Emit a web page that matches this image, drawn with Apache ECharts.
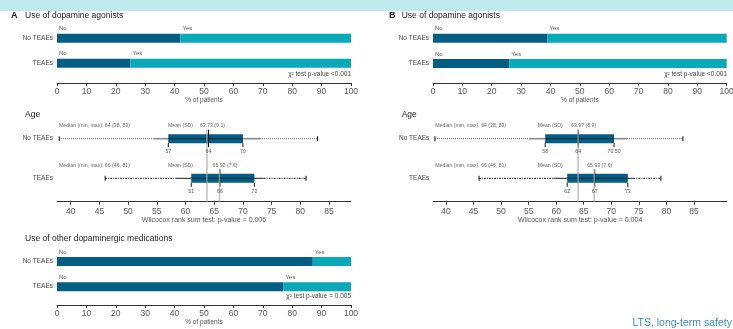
<!DOCTYPE html>
<html>
<head>
<meta charset="utf-8">
<script src="https://cdn.jsdelivr.net/npm/echarts@6/dist/echarts.min.js"></script>
<style>
  html, body { margin: 0; padding: 0; background: #fff; }
  #chart { width: 733px; height: 329px; }
</style>
</head>
<body>
<div id="chart"></div>
<script>
const rowNames = ['No TEAEs', 'TEAEs'];

// % of patients, "No" / "Yes"
const dopaNoA = [42, 25];
const dopaYesA = [58, 75];
const dopaNoB = [39, 26];
const dopaYesB = [61, 74];
const otherNoA = [87, 77];
const otherYesA = [13, 23];

// age rows: min, end of solid whisker, q1, median, q3, end of solid whisker, max, mean
const ageA = [
  [38, 54.5, 57, 64, 70, 73, 83, 63.73],
  [46, 58.3, 61, 66, 72, 73.6, 81, 65.92]
];
const ageB = [
  [38, 55.1, 58, 64, 70.5, 72.9, 83, 63.97],
  [46, 59.8, 62, 67, 73, 74, 79, 66.9]
];
const ageTicks = [40, 45, 50, 55, 60, 65, 70, 75, 80, 85];

const medianTextA = ['Median (min, max): 64 (38, 83)', 'Median (min, max): 66 (46, 81)'];
const meanTextA = ['63.73 (9.1)', '65.92 (7.6)'];
const boxTextA = [['57', '64', '70'], ['51', '66', '72']];
const medianTextB = ['Median (min, max): 64 (38, 83)', 'Median (min, max): 66 (46, 81)'];
const meanTextB = ['63.97 (8.9)', '65.93 (7.6)'];
const boxTextB = [['58', '64', '70.50'], ['62', '67', '73']];

const FONT = '"Liberation Sans", Arial, Helvetica, sans-serif';
const DARK = '#045e84';
const LIGHT = '#0aa9b9';
const AGE_OFFSET = 23.4;

const chart = echarts.init(document.getElementById('chart'));

function pctAxis(gridIndex, offset) {
  return {
    type: 'value', gridIndex, min: 0, max: 100, interval: 10, offset,
    name: '% of patients', nameLocation: 'middle', nameGap: 14,
    nameTextStyle: { fontSize: 6.5, color: '#555', fontFamily: FONT },
    axisLine: { show: true, lineStyle: { color: '#333', width: 1 } },
    axisTick: { show: true, length: 3, lineStyle: { color: '#333' } },
    axisLabel: { fontSize: 8.5, color: '#555', margin: 4, fontFamily: FONT },
    splitLine: { show: false }
  };
}

function ageAxis(gridIndex, min, max, name) {
  return {
    type: 'value', gridIndex, min, max, offset: AGE_OFFSET,
    name, nameLocation: 'middle', nameGap: 15,
    nameTextStyle: { fontSize: 7, color: '#555', fontFamily: FONT },
    axisLine: { show: true, lineStyle: { color: '#333', width: 1 } },
    axisTick: { show: true, length: 3, customValues: ageTicks, lineStyle: { color: '#333' } },
    axisLabel: { customValues: ageTicks, fontSize: 8.5, color: '#555', margin: 5, fontFamily: FONT },
    splitLine: { show: false }
  };
}

function rowAxis(gridIndex) {
  return {
    type: 'category', gridIndex, data: rowNames, inverse: true, boundaryGap: false,
    axisLine: { show: false }, axisTick: { show: false }, splitLine: { show: false },
    axisLabel: { fontSize: 6.5, color: '#444', margin: 4, fontFamily: FONT }
  };
}

function barPair(idx, noData, yesData) {
  const label = {
    show: true, position: [2, -5], align: 'left', verticalAlign: 'middle',
    fontSize: 6, color: '#555', fontFamily: FONT
  };
  const base = { type: 'bar', xAxisIndex: idx, yAxisIndex: idx, stack: 's' + idx, barWidth: 9, silent: true };
  return [
    Object.assign({}, base, { name: 'No', data: noData, itemStyle: { color: DARK }, label: Object.assign({}, label, { formatter: 'No' }) }),
    Object.assign({}, base, { name: 'Yes', data: yesData, itemStyle: { color: LIGHT }, label: Object.assign({}, label, { formatter: 'Yes' }) })
  ];
}

function ageRenderer(medText, meanText, boxText, meanLabelDx) {
  return function (params, api) {
    const i = api.value(0);
    const X = k => api.coord([api.value(k), i])[0];
    const y = api.coord([api.value(1), i])[1];
    const cs = params.coordSys;
    const axisY = cs.y + cs.height + AGE_OFFSET;
    const xMin = X(1), xLo = X(2), xQ1 = X(3), xMd = X(4), xQ3 = X(5), xHi = X(6), xMax = X(7), xMean = X(8);
    const first = i === 0;
    const solid = { stroke: first ? '#8a8a8a' : '#1a1a1a', lineWidth: first ? 1.6 : 1 };
    const dotted = { stroke: first ? '#555' : '#1a1a1a', lineWidth: 1, lineDash: first ? [1, 1] : [2, 1, 1, 1] };
    const tick = { stroke: '#111', lineWidth: 1 };
    const line = (x1, y1, x2, y2, style, z2) => ({ type: 'line', shape: { x1, y1, x2, y2 }, style, z2: z2 || 0 });
    const txt = (x, yy, text, align, size, color) => ({
      type: 'text', x, y: yy, z2: 20,
      style: { text, align, verticalAlign: 'middle', fontSize: size, fill: color, fontFamily: FONT }
    });
    const ty = y - 12.7;
    return {
      type: 'group',
      children: [
        line(xMin, y, xLo, y, dotted),
        line(xHi, y, xMax, y, dotted),
        line(xLo, y, xQ1, y, solid),
        line(xQ3, y, xHi, y, solid),
        line(xMin, y - 2.5, xMin, y + 2.5, tick),
        line(xMax, y - 2.5, xMax, y + 2.5, tick),
        { type: 'rect', shape: { x: xQ1, y: y - 4.5, width: xQ3 - xQ1, height: 9 }, style: { fill: DARK }, z2: 1 },
        line(xQ1, y, xQ3, y, { stroke: '#0a324a', lineWidth: 1.2 }, 2),
        line(xMd, y - 9, xMd, y + 8.5, tick, 3),
        line(xQ1, y + 4.5, xQ1, y + 8.5, tick, 3),
        line(xQ3, y + 4.5, xQ3, y + 8.5, tick, 3),
        line(xMean, y - 9, xMean, axisY, { stroke: 'rgba(170,170,170,0.75)', lineWidth: 1.5 }, 10),
        txt(cs.x + 2, ty, medText[i], 'left', 5.2, '#666'),
        txt(cs.x + meanLabelDx, ty, 'Mean (SD)', 'left', 5.2, '#666'),
        txt(xMean - 7, ty, meanText[i], 'left', 5.2, '#666'),
        txt(xQ1, y + 13, boxText[i][0], 'center', 5.2, '#555'),
        txt(xMd, y + 13, boxText[i][1], 'center', 5.2, '#555'),
        txt(xQ3, y + 13, boxText[i][2], 'center', 5.2, '#555')
      ]
    };
  };
}

function ageSeries(idx, rows, medText, meanText, boxText, meanLabelDx) {
  return {
    type: 'custom', xAxisIndex: idx, yAxisIndex: idx, silent: true,
    data: rows.map((r, i) => [i].concat(r)),
    encode: { x: [1, 2, 3, 4, 5, 6, 7, 8], y: 0 },
    renderItem: ageRenderer(medText, meanText, boxText, meanLabelDx)
  };
}

function title(x, y, text, bold) {
  return {
    type: 'text', x, y,
    style: { text, fontSize: bold ? 9 : 8.5, fontWeight: bold ? 'bold' : 'normal', fill: '#222', fontFamily: FONT, verticalAlign: 'middle' }
  };
}
function note(x, y, text) {
  return {
    type: 'text', x, y,
    style: { text, fontSize: 6.5, fill: '#444', fontFamily: FONT, align: 'right', verticalAlign: 'middle' }
  };
}

const option = {
  animation: false,
  backgroundColor: '#fff',
  grid: [
    { left: 57, width: 294, top: 38.2, height: 25.1, outerBoundsMode: 'none' },
    { left: 57, width: 294, top: 138.7, height: 39.6, outerBoundsMode: 'none' },
    { left: 57, width: 294, top: 261.5, height: 25.2, outerBoundsMode: 'none' },
    { left: 433, width: 293.7, top: 38.2, height: 25.4, outerBoundsMode: 'none' },
    { left: 433.3, width: 293.7, top: 138.7, height: 39.6, outerBoundsMode: 'none' }
  ],
  xAxis: [
    pctAxis(0, 19.7),
    ageAxis(1, 37.61, 88.83, 'Wilcocox rank sum test: p-value = 0.006'),
    pctAxis(2, 18.3),
    pctAxis(3, 19.3),
    ageAxis(4, 37.7, 91, 'Wilcocox rank sum test: p-value = 0.004')
  ],
  yAxis: [rowAxis(0), rowAxis(1), rowAxis(2), rowAxis(3), rowAxis(4)],
  series: [].concat(
    barPair(0, dopaNoA, dopaYesA),
    [ageSeries(1, ageA, medianTextA, meanTextA, boxTextA, 111)],
    barPair(2, otherNoA, otherYesA),
    barPair(3, dopaNoB, dopaYesB),
    [ageSeries(4, ageB, medianTextB, meanTextB, boxTextB, 104.4)]
  ),
  graphic: [
    { type: 'rect', shape: { x: 0, y: 0, width: 733, height: 11 }, style: { fill: '#bfe9ed' }, silent: true },
    title(11, 16, 'A', true),
    title(25, 16, 'Use of dopamine agonists'),
    title(25, 115, 'Age'),
    title(25, 239, 'Use of other dopaminergic medications'),
    title(389, 16, 'B', true),
    title(401.7, 16, 'Use of dopamine agonists'),
    title(401.7, 115, 'Age'),
    note(351, 74, 'χ² test p-value <0.001'),
    note(351, 296, 'χ² test p-value = 0.005'),
    note(727, 74, 'χ² test p-value <0.001'),
    {
      type: 'text', x: 732, y: 323,
      style: { text: 'LTS, long-term safety', fontSize: 10.5, fill: '#3d8db5', fontFamily: FONT, align: 'right', verticalAlign: 'middle' }
    }
  ]
};

chart.setOption(option);
window.addEventListener('resize', () => chart.resize());
</script>
</body>
</html>
